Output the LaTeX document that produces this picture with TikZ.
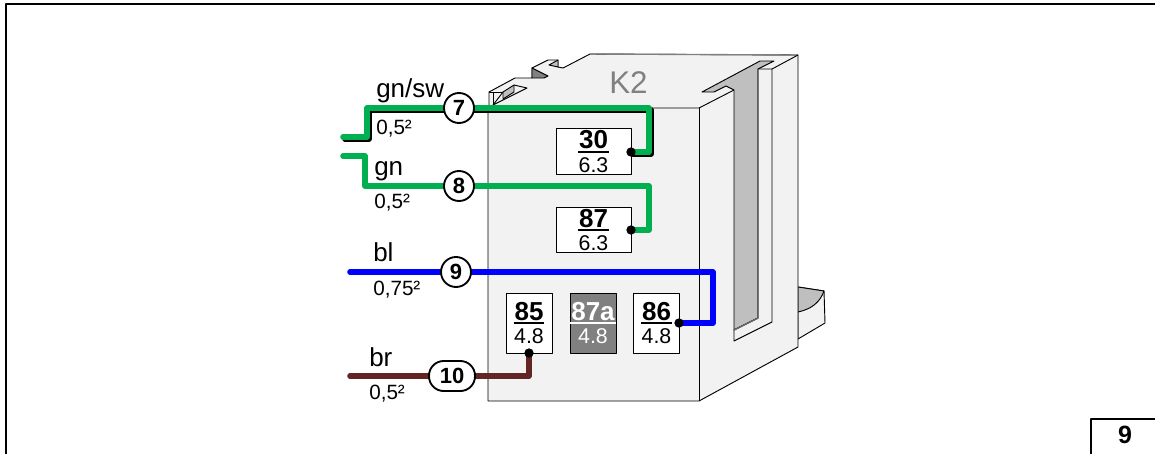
\documentclass[tikz,border=0pt]{standalone}
\usepackage{fontspec}
\setmainfont{Liberation Sans}
\usetikzlibrary{calc,positioning}
\definecolor{bodygray}{HTML}{F2F2F2}
\definecolor{slotgray}{HTML}{BFBFBF}
\definecolor{wiregn}{HTML}{00B050}
\definecolor{wirebr}{HTML}{632523}
\newcommand{\pxfont}[1]{\fontsize{#1}{#1}\selectfont}
\newcommand{\pintext}[3]{\vbox{\offinterlineskip\halign{\hfil##\hfil\cr
  \pxfont{19.5}\bfseries #1\cr\noalign{\kern1.3pt}
  \rule{#3}{1.6pt}\cr\noalign{\kern3.6pt}
  \pxfont{16}#2\cr}}}

\begin{document}
\begin{tikzpicture}[
      x=0.75pt,y=-0.75pt,
      line join=round,
      wire/.style={line width=4.2pt,line cap=round},
      wireshadow/.style={wire,black,transform canvas={shift={(1.5pt,-1.5pt)}}},
      wirenum/.style={draw=black,fill=white,line width=1.4pt,circle,inner sep=0pt,minimum size=22.5pt,font=\pxfont{16.5}\bfseries},
      wirecolor/.style={anchor=base west,inner sep=0pt,font=\pxfont{19.5}},
      wiresize/.style={anchor=base west,inner sep=0pt,font=\pxfont{15.5}},
      pin/.style={draw=black,fill=white,line width=0.7pt,inner sep=0pt},
      pinwide/.style={pin,minimum width=56.25pt,minimum height=34pt},
      pintall/.style={pin,minimum width=34.5pt,minimum height=45pt},
      pindot/.style={circle,fill=black,inner sep=0pt,minimum size=7pt},
      outline/.style={draw=black,line width=0.7pt}]
    \useasboundingbox (0,0) rectangle (1155,454);

    % page frame
    \draw[line width=1.5pt] (1155,4) -- (6,4) -- (6,454);
    \draw[line width=1.5pt] (1091,454) -- (1091,419) -- (1155,419);
    \node [anchor=base,inner sep=0pt,font=\pxfont{18.75}\bfseries] (page) at (1125,443) {9};

    % foot
    \draw[outline,fill=bodygray] (798,287) -- (824,291) -- (825,323) -- (798,339) -- cycle;
    \draw[outline,fill=slotgray] (798,287) -- (824,291) .. controls (820,302) and (812,309) .. (798,312) -- cycle;

    % relay body
    \draw[outline,fill=bodygray] (488,108) -- (489,105) -- (489,92) -- (515,78) -- (532,78) -- (532,68)
      -- (548,60) -- (558,60) -- (558,67) -- (563,68) -- (590,54) -- (798,55) -- (798,347)
      -- (699,401) -- (488,401) -- cycle;
    \draw[outline,draw=gray,line width=1pt] (590,54) -- (798,55);
    \draw[outline] (699,108) -- (699,401);
    \draw[outline] (488,108) -- (699,108) -- (734,90);
    \draw[outline] (772,69) -- (798,55);
    % notches on top
    \draw[outline,fill=gray] (532,68) -- (548,76) -- (544,78) -- (532,78) -- cycle;
    \draw[outline,fill=slotgray] (549,65) -- (558,60) -- (558,67) -- cycle;
    \draw[outline] (489,92) -- (503,92);
    \draw[outline] (493,92) -- (493,105);
    \draw[outline,fill=slotgray] (503,92) -- (514,85) -- (514,92) -- (503,99) -- cycle;
    \draw[outline] (493,105) -- (503,92);
    \draw[outline] (514,85) -- (527,88) -- (493,105);

    % slots on the side
    \draw[outline,fill=slotgray] (702,92) -- (760,61) -- (774,61) -- (758,69) -- (758,318) -- (734,330)
      -- (734,90) -- (726,86) -- (714,92) -- cycle;
    \draw[outline,fill=bodygray] (758,69) -- (772,69) -- (772,322) -- (734,341) -- (734,330) -- (758,318) -- cycle;
    \draw[draw=black!60,line width=1pt] (758,69) -- (758,318) -- (734,330);

    \node [anchor=base west,inner sep=0pt,text=gray,font=\pxfont{23.5}] (name) at (609,93) {K2};

    % pins
    \node [pinwide] (pin30) at (593.5,151.5) {\pintext{30}{6.3}{23pt}};
    \node [pinwide] (pin87) at (593.5,230) {\pintext{87}{6.3}{23pt}};
    \node [pintall] (pin85) at (529,323) {\pintext{85}{4.8}{23pt}};
    \node [pintall,fill=gray,text=white] (pin87a) at (593,323) {\pintext{87a}{4.8}{34.5pt}};
    \node [pintall] (pin86) at (656.5,323) {\pintext{86}{4.8}{23pt}};

    \coordinate (dot30) at (631,152);
    \coordinate (dot87) at (631,230);
    \coordinate (dot85) at (529,353);
    \coordinate (dot86) at (679,323);
    \coordinate (num7) at (459,108);
    \coordinate (num8) at (459,186);
    \coordinate (num9) at (456,272);
    \coordinate (num10) at (452,376);
    \coordinate (end7) at (343,137);
    \coordinate (end8) at (343,156);
    \coordinate (end9) at (350,272);
    \coordinate (end10) at (350,376);

    % wires
    \draw[wireshadow] (end7) -- (367,137) -- (367,108) -- (num7) -- (649,108) -- (649,152) -- (dot30);
    \draw[wire,wiregn] (end7) -- (367,137) -- (367,108) -- (num7) -- (649,108) -- (649,152) -- (dot30);
    \draw[wire,wiregn] (end8) -- (365,156) -- (365,186) -- (num8) -- (649,186) -- (649,230) -- (dot87);
    \draw[wire,blue] (end9) -- (num9) -- (713,272) -- (713,323) -- (dot86);
    \draw[wire,wirebr] (end10) -- (num10) -- (529,376) -- (dot85);

    \node [pindot] (con30) at (dot30) {};
    \node [pindot] (con87) at (dot87) {};
    \node [pindot] (con85) at (dot85) {};
    \node [pindot] (con86) at (dot86) {};

    \node [wirenum] (n7) at (num7) {7};
    \node [wirenum] (n8) at (num8) {8};
    \node [wirenum] (n9) at (num9) {9};
    \node [wirenum,shape=rectangle,rounded corners=11pt,minimum width=34.5pt] (n10) at (num10) {10};

    \node [wirecolor] (col7) at (376,97) {gn/sw};
    \node [wiresize] (size7) at (376,134) {0,5²};
    \node [wirecolor] (col8) at (374,175) {gn};
    \node [wiresize] (size8) at (374,208) {0,5²};
    \node [wirecolor] (col9) at (373,261) {bl};
    \node [wiresize] (size9) at (373,295) {0,75²};
    \node [wirecolor] (col10) at (369,366) {br};
    \node [wiresize] (size10) at (369,399) {0,5²};
  \end{tikzpicture}
\end{document}
